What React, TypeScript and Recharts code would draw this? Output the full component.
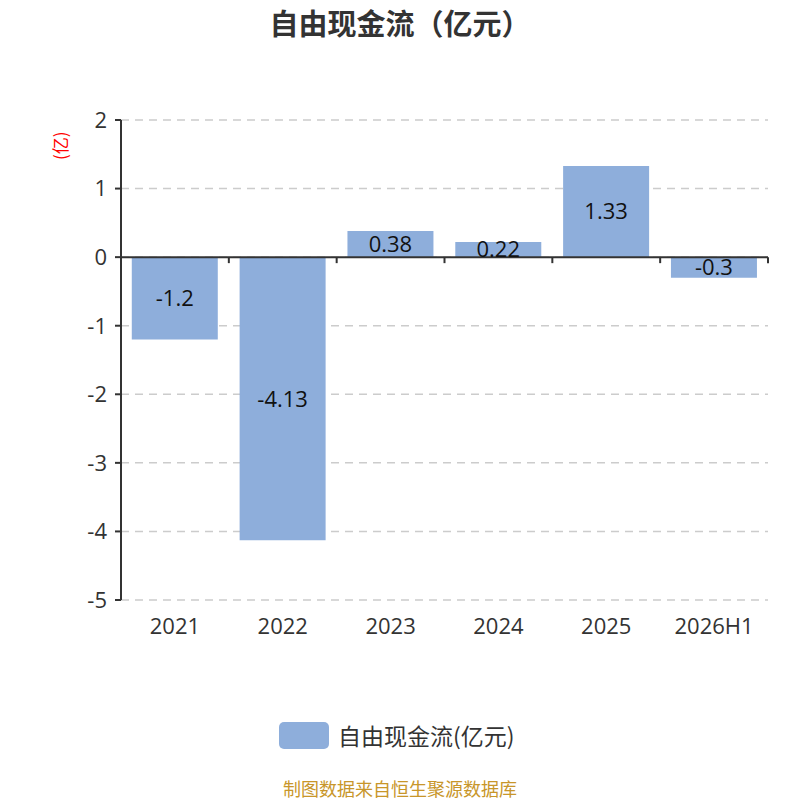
import React from "react";
import {
  BarChart,
  Bar,
  XAxis,
  YAxis,
  CartesianGrid,
  ReferenceLine,
  LabelList,
} from "recharts";

const years = ["2021", "2022", "2023", "2024", "2025", "2026H1"];
const cashFlow = [-1.2, -4.13, 0.38, 0.22, 1.33, -0.3];
const yTicks = [-5, -4, -3, -2, -1, 0, 1, 2];

const data = years.map((year, i) => ({ year, value: cashFlow[i] }));

const FONT = '"Noto Sans CJK SC", "Noto Sans", sans-serif';
const NUM_FONT = '"Open Sans", "Noto Sans", sans-serif';

// zero line with category boundary ticks hanging below it
const ZeroAxis = (props: any) => {
  const { x1, x2, y1 } = props;
  if (x1 == null || x2 == null || y1 == null) return null;
  const step = (x2 - x1) / years.length;
  const ticks = [];
  for (let i = 0; i <= years.length; i++) {
    const x = x1 + step * i;
    ticks.push(
      <line key={i} x1={x} x2={x} y1={y1} y2={y1 + 6} stroke="#333" strokeWidth={2} />
    );
  }
  return (
    <g>
      <line x1={x1} x2={x2} y1={y1} y2={y1} stroke="#333" strokeWidth={2} />
      {ticks}
    </g>
  );
};

export default function App() {
  return (
    <div
      style={{
        position: "absolute",
        left: 0,
        top: 0,
        width: 800,
        height: 800,
        background: "#fff",
        fontFamily: FONT,
      }}
    >
      <div
        style={{
          position: "absolute",
          top: 2,
          width: 800,
          textAlign: "center",
          fontSize: 29,
          fontWeight: "bold",
          color: "#333",
          lineHeight: "40px",
        }}
      >
        自由现金流（亿元）
      </div>
      <BarChart
        width={800}
        height={800}
        data={data}
        margin={{ top: 120, right: 32, left: 0, bottom: 160 }}
        barCategoryGap="10%"
      >
        <CartesianGrid
          vertical={false}
          strokeDasharray="8 6"
          stroke="#ccc"
          strokeWidth={1.5}
        />
        <XAxis
          dataKey="year"
          axisLine={false}
          tickLine={false}
          height={40}
          tick={{ fill: "#333", fontSize: 22, fontFamily: NUM_FONT }}
          tickMargin={12}
        />
        <YAxis
          width={121}
          domain={[-5, 2]}
          ticks={yTicks}
          interval={0}
          axisLine={{ stroke: "#333", strokeWidth: 2 }}
          tickLine={{ stroke: "#333", strokeWidth: 2 }}
          tickSize={6}
          tick={{ fill: "#333", fontSize: 22, fontFamily: NUM_FONT }}
          tickMargin={8}
          label={{
            value: "(亿)",
            angle: -90,
            position: "insideTopLeft",
            dx: 50,
            dy: 35,
            style: { fill: "red", fontSize: 17, fontFamily: FONT },
          }}
        />
        <Bar dataKey="value" fill="#8eaedb" isAnimationActive={false}>
          <LabelList
            dataKey="value"
            position="center"
            fill="#111"
            fontSize={22}
            fontFamily={NUM_FONT}
          />
        </Bar>
        <ReferenceLine y={0} shape={<ZeroAxis />} />
      </BarChart>
      <div
        style={{
          position: "absolute",
          left: 279,
          top: 722,
          width: 50,
          height: 27,
          borderRadius: 5,
          background: "#8eaedb",
        }}
      />
      <div
        style={{
          position: "absolute",
          left: 338,
          top: 719,
          fontSize: 23,
          color: "#333",
          lineHeight: "32px",
        }}
      >
        自由现金流(亿元)
      </div>
      <div
        style={{
          position: "absolute",
          top: 776,
          width: 800,
          textAlign: "center",
          fontSize: 18,
          color: "#c8962a",
          lineHeight: "24px",
        }}
      >
        制图数据来自恒生聚源数据库
      </div>
    </div>
  );
}
